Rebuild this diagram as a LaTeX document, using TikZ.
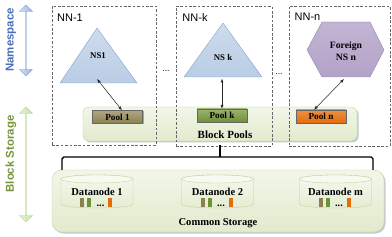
\documentclass[tikz,border=0pt]{standalone}
\usepackage{fontspec}
\newfontfamily\labelsans{Liberation Sans}
\newfontfamily\labelserif{Liberation Serif}
\usetikzlibrary{
  arrows.meta,
  shapes.arrows,
  shadows
}
\definecolor{nsblue}{RGB}{185,205,229}
\definecolor{nsblueline}{RGB}{125,155,200}
\definecolor{nstext}{RGB}{70,110,180}
\definecolor{bsgreen}{RGB}{215,228,189}
\definecolor{bsline}{RGB}{175,198,130}
\definecolor{bstext}{RGB}{119,147,60}
\definecolor{poolbrown}{RGB}{140,128,78}
\definecolor{poolgreen}{RGB}{112,145,55}
\definecolor{poolorange}{RGB}{228,108,10}
\definecolor{foreignpurple}{RGB}{179,162,199}
\definecolor{foreignline}{RGB}{150,125,180}
\definecolor{storefill}{RGB}{225,235,205}
\definecolor{storeline}{RGB}{190,210,150}
\tikzset{
  link/.style={{Latex[length=1.6mm,width=1.2mm]}-{Latex[length=1.6mm,width=1.2mm]},semithick,draw=black!85},
  side arrow/.style={
    double arrow,
    rotate=90,
    minimum width=0.52cm,
    double arrow head extend=0.14cm,
    inner sep=0pt
  },
  sidelabel/.style={rotate=90,font=\labelsans\bfseries\fontsize{13}{14}\selectfont},
  nnbox/.style={draw=black!60,densely dashed,thin,inner sep=0pt},
  nnlabel/.style={font=\labelsans\fontsize{12.5}{14}\selectfont},
  dots/.style={font=\labelsans\fontsize{10}{12}\selectfont},
  nsshape/.style={draw=nsblueline,top color=nsblue!70!white,bottom color=nsblue,line join=round},
  foreignshape/.style={draw=foreignline,top color=foreignpurple!80!white,bottom color=foreignpurple,line join=round},
  nslabel/.style={font=\labelserif\bfseries\fontsize{10}{12}\selectfont,align=center},
  store/.style={
    draw=storeline,
    top color=storefill!45!white,
    bottom color=storefill,
    inner sep=0pt,
    drop shadow={shadow xshift=0.06cm,shadow yshift=-0.06cm,opacity=0.35,fill=black!60}
  },
  pool/.style={
    draw=black!60,
    minimum width=2.0cm,
    minimum height=0.52cm,
    inner sep=0pt,
    font=\labelserif\bfseries\fontsize{10.5}{11}\selectfont,
    drop shadow={shadow xshift=0.04cm,shadow yshift=-0.04cm,opacity=0.45,fill=black!70}
  },
  storename/.style={font=\labelserif\bfseries\fontsize{12}{13}\selectfont},
  disk/.style={draw=storeline,top color=storefill!35!white,bottom color=storefill!90!white},
  bracket/.style={line width=1.6pt,rounded corners=2pt}
}

\begin{document}
\begin{tikzpicture}
  \useasboundingbox (0,0) rectangle (15.68,9.44);

  % side arrows
  \node[side arrow,draw=nsblueline,left color=nsblue!60!white,right color=nsblue!85!blue,minimum height=2.84cm] (nsarrow) at (1.04,7.82) {};
  \node[sidelabel,text=nstext] (nsside) at (0.44,7.84) {Namespace};
  \node[side arrow,draw=bsline,left color=bsgreen!60!white,right color=bsgreen!90!green,minimum height=4.6cm] (bsarrow) at (1.04,2.86) {};
  \node[sidelabel,text=bstext] (bsside) at (0.44,3.28) {Block Storage};

  % block pools
  \node[store,minimum width=10.96cm,minimum height=1.36cm,rounded corners=0.24cm] (blockpools) at (8.80,4.48) {};
  \node[storename,font=\labelserif\bfseries\fontsize{12.5}{13}\selectfont] (bplabel) at (9.00,4.06) {Block Pools};
  \node[pool,top color=poolbrown!70!white,bottom color=poolbrown] (pool1) at (4.70,4.76) {Pool 1};
  \node[pool,top color=poolgreen!70!white,bottom color=poolgreen] (poolk) at (8.88,4.82) {Pool k};
  \node[pool,top color=poolorange!75!white,bottom color=poolorange] (pooln) at (12.84,4.78) {Pool n};

  % namenode boxes
  \node[nnbox,minimum width=4.16cm,minimum height=5.56cm] (nn1) at (4.16,6.42) {};
  \node[nnbox,minimum width=3.84cm,minimum height=5.60cm] (nnk) at (8.96,6.40) {};
  \node[nnbox,minimum width=4.04cm,minimum height=5.60cm] (nnn) at (13.58,6.40) {};
  \node[nnlabel] (nn1lbl) at (2.80,8.72) {NN-1};
  \node[nnlabel] (nnklbl) at (7.80,8.72) {NN-k};
  \node[nnlabel] (nnnlbl) at (12.30,8.76) {NN-n};
  \node[dots] (gap1) at (6.64,6.60) {...};
  \node[dots] (gap2) at (11.16,6.48) {...};

  % namespaces
  \draw[nsshape] (3.88,8.32) -- (5.48,6.12) -- (2.40,6.12) -- cycle;
  \node[nslabel] (ns1) at (3.92,7.20) {NS1};
  \draw[nsshape] (8.92,8.52) -- (10.48,6.36) -- (7.36,6.36) -- cycle;
  \node[nslabel] (nsk) at (8.92,7.16) {NS k};
  \draw[foreignshape] (12.28,7.44) -- (12.88,8.56) -- (14.80,8.56) -- (15.36,7.44)
    -- (14.80,6.36) -- (12.88,6.36) -- cycle;
  \node[nslabel,font=\labelserif\bfseries\fontsize{11}{13.5}\selectfont] (nsn) at (13.84,7.38) {Foreign\\NS n};
  \coordinate (ns1base) at (3.88,6.28);
  \coordinate (nskbase) at (8.88,6.30);
  \coordinate (nsnbase) at (13.76,6.28);
  \draw[link] (ns1base) -- ([xshift=0.18cm]pool1.north);
  \draw[link] (nskbase) -- (poolk.north);
  \draw[link] (nsnbase) -- ([xshift=-0.28cm]pooln.north);

  % common storage
  \node[store,minimum width=13.28cm,minimum height=2.48cm,rounded corners=0.4cm] (common) at (8.72,1.40) {};
  \node[storename] (cslabel) at (8.72,0.52) {Common Storage};
  \foreach \cx/\nm/\lbl in {3.88/dn1/Datanode 1,8.70/dn2/Datanode 2,13.42/dnm/Datanode m}{
    \draw[disk] (\cx-1.44,2.28) -- (\cx-1.44,1.28) arc (180:360:1.44 and 0.16)
      -- (\cx+1.44,2.28) arc (0:180:1.44 and 0.16) -- cycle;
    \draw[storeline,fill=storefill!25!white] (\cx,2.28) ellipse (1.44 and 0.16);
    \node[storename] (\nm) at (\cx,1.78) {\lbl};
    \fill[poolbrown] (\cx-0.68,1.16) rectangle (\cx-0.52,1.52);
    \fill[poolgreen] (\cx-0.40,1.16) rectangle (\cx-0.24,1.52);
    \node[storename,inner sep=0pt,anchor=base] (\nm dots) at (\cx+0.14,1.20) {...};
    \fill[poolorange] (\cx+0.45,1.16) rectangle (\cx+0.61,1.52);
  }

  % bracket
  \coordinate (brl) at (2.48,2.64);
  \coordinate (brr) at (14.92,2.64);
  \coordinate (brmid) at (8.80,3.16);
  \draw[bracket] (brl) |- (brr |- brmid) -- (brr);
  \draw[bracket,shorten <=0.16cm,rounded corners=0pt] (blockpools.south) -- (blockpools.south |- brmid);
\end{tikzpicture}
\end{document}
